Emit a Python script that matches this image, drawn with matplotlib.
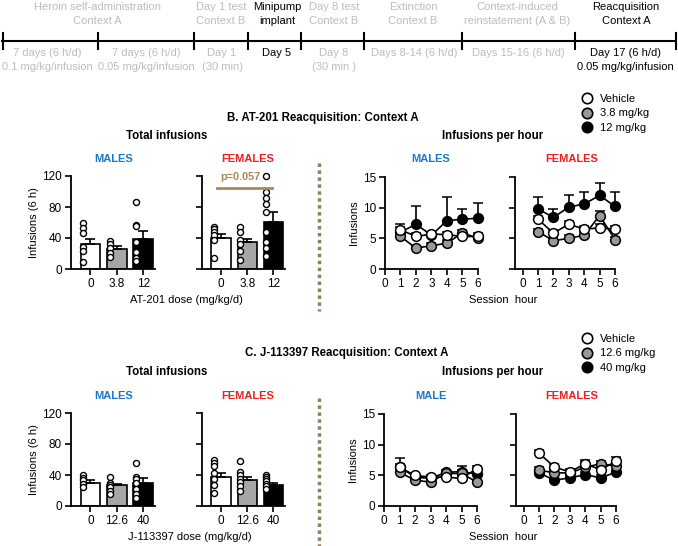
import numpy as np
import matplotlib
matplotlib.use('Agg')
import matplotlib.pyplot as plt
from matplotlib.lines import Line2D

plt.rcParams['font.family'] = ['Liberation Sans', 'DejaVu Sans']

# ---- data ----
hours = [1, 2, 3, 4, 5, 6]

b_doses = ['0', '3.8', '12']
b_male_mean = [32, 26, 39]
b_male_sem = [7, 4, 10]
b_female_mean = [40, 35, 61]
b_female_sem = [5, 4, 12]
b_male_pts = [[59, 53, 46, 28, 23, 9],
              [36, 32, 27, 21, 15],
              [87, 57, 55, 35, 22, 14, 10]]
b_female_pts = [[54, 51, 48, 44, 38, 14],
                [54, 48, 38, 32, 23, 12],
                [120, 100, 92, 84, 74, 48, 35, 27, 17]]

c_doses = ['0', '12.6', '40']
c_male_mean = [30, 26.5, 30]
c_male_sem = [3, 2.5, 6]
c_female_mean = [38, 33, 27]
c_female_sem = [5, 5, 3]
c_male_pts = [[40, 36, 33, 29, 25],
              [38, 30, 27, 25, 20, 16],
              [55, 38, 35, 30, 22, 16, 10]]
c_female_pts = [[59, 55, 51, 42, 35, 27, 17],
                [58, 44, 40, 35, 31, 26, 19],
                [40, 38, 35, 32, 29, 26, 22]]

# infusions per hour: vehicle, low dose, high dose
b_m_veh = [6.4, 5.3, 5.7, 5.6, 5.3, 5.3]
b_m_low = [5.3, 3.4, 3.8, 4.2, 5.9, 5.0]
b_m_high = [6.0, 7.3, 5.5, 7.9, 8.1, 8.3]
b_m_veh_sem = [0.5, 0.5, 0.4, 0.5, 0.4, 0.5]
b_m_low_sem = [0.5, 0.4, 0.4, 0.5, 0.5, 0.5]
b_m_high_sem = [1.4, 2.9, 0.3, 3.8, 1.7, 2.5]

b_f_veh = [8.1, 5.85, 7.3, 6.5, 6.7, 6.5]
b_f_low = [6.1, 4.6, 5.0, 5.5, 8.7, 4.8]
b_f_high = [9.8, 8.4, 10.1, 10.6, 12.0, 10.2]
b_f_veh_sem = [0.6, 0.5, 0.6, 0.5, 0.6, 0.5]
b_f_low_sem = [0.5, 0.4, 0.5, 0.5, 0.8, 0.4]
b_f_high_sem = [2.0, 1.4, 1.9, 1.9, 2.0, 2.3]

c_m_veh = [6.3, 5.0, 4.7, 4.7, 4.5, 6.1]
c_m_low = [5.5, 4.2, 3.9, 5.3, 5.3, 3.9]
c_m_high = [6.4, 4.7, 4.5, 5.5, 5.6, 5.2]
c_m_veh_sem = [0.6, 0.4, 0.3, 0.3, 0.4, 0.5]
c_m_low_sem = [0.5, 0.4, 0.3, 0.4, 0.5, 0.4]
c_m_high_sem = [1.4, 0.4, 0.4, 0.4, 0.85, 0.5]

c_f_veh = [8.6, 6.35, 5.55, 6.9, 5.9, 7.3]
c_f_low = [5.85, 5.4, 5.4, 6.3, 6.9, 6.5]
c_f_high = [5.4, 4.2, 4.6, 5.1, 4.6, 5.5]
c_f_veh_sem = [0.6, 0.5, 0.5, 0.6, 0.5, 0.7]
c_f_low_sem = [0.5, 0.4, 0.4, 0.9, 0.5, 0.6]
c_f_high_sem = [0.4, 0.3, 0.3, 0.4, 0.4, 0.4]

b_legend = ['Vehicle', '3.8 mg/kg', '12 mg/kg']
c_legend = ['Vehicle', '12.6 mg/kg', '40 mg/kg']

# timeline
tl_ticks = [3, 98, 194, 248, 301, 364, 462, 575, 676]
tl_top = [('Heroin self-administration', 'Context A', 97, 0),
          ('Day 1 test', 'Context B', 221, 0),
          ('Minipump', 'implant', 277, 1),
          ('Day 8 test', 'Context B', 334, 0),
          ('Extinction', 'Context B', 413, 0),
          ('Context-induced', 'reinstatement (A & B)', 517, 0),
          ('Reacquisition', 'Context A', 626, 1)]
tl_bottom = [('7 days (6 h/d)', '0.1 mg/kg/infusion', 47, 0),
             ('7 days (6 h/d)', '0.05 mg/kg/infusion', 146, 0),
             ('Day 1', '(30 min)', 222, 0),
             ('Day 5', '', 277, 1),
             ('Day 8', '(30 min )', 334, 0),
             ('Days 8-14 (6 h/d)', '', 414, 0),
             ('Days 15-16 (6 h/d)', '', 518, 0),
             ('Day 17 (6 h/d)', '0.05 mg/kg/infusion', 625, 1)]

# ---- style ----
GRAY_TXT = '#bdbdbd'
BLUE = '#1a78cc'
RED = '#f21d1d'
PCOL = '#a8895a'
DIV = '#8f8060'
bar_colors = ['white', '#a6a6a6', 'black']
FS = 8

W, H = 678, 546
fig = plt.figure(figsize=(W / 100, H / 100), dpi=100)


def box(l, t, r, b):
    return [l / W, 1 - b / H, (r - l) / W, (b - t) / H]


ov = fig.add_axes([0, 0, 1, 1])
ov.set_xlim(0, W)
ov.set_ylim(H, 0)
ov.axis('off')

# timeline
ov.plot([2, 676], [41, 41], color='black', lw=1.5)
for x in tl_ticks:
    ov.plot([x, x], [33, 49], color='black', lw=1.5)
for l1, l2, x, k in tl_top:
    c = 'black' if k else GRAY_TXT
    ov.text(x, 7, l1, ha='center', va='center', fontsize=FS, color=c)
    ov.text(x, 21, l2, ha='center', va='center', fontsize=FS, color=c)
for l1, l2, x, k in tl_bottom:
    c = 'black' if k else GRAY_TXT
    ov.text(x, 53, l1, ha='center', va='center', fontsize=FS, color=c)
    if l2:
        ov.text(x, 67, l2, ha='center', va='center', fontsize=FS, color=c)


def style(ax):
    for s in ['top', 'right']:
        ax.spines[s].set_visible(False)
    for s in ['left', 'bottom']:
        ax.spines[s].set_linewidth(1.3)
    ax.tick_params(width=1.2, length=4.5, labelsize=8.5, pad=2)


def bar_panel(rect, means, sems, pts, doses, show_y):
    ax = fig.add_axes(rect)
    x = np.arange(3)
    ax.bar(x, means, width=0.75, color=bar_colors, edgecolor='black', lw=1.2, zorder=2)
    ax.errorbar(x, means, yerr=[np.zeros(3), sems], fmt='none', ecolor='black',
                elinewidth=1.2, capsize=3.5, capthick=1.2, zorder=3)
    for i, p in enumerate(pts):
        ax.scatter(np.full(len(p), i - 0.27), p, s=19, facecolor='white',
                   edgecolor='black', lw=1.0, zorder=4, clip_on=False)
    ax.set_xlim(-0.74, 2.45)
    ax.set_ylim(0, 120)
    ax.set_yticks([0, 40, 80, 120])
    ax.set_xticks(x)
    ax.set_xticklabels(doses)
    style(ax)
    if show_y:
        ax.set_ylabel('Infusions (6 h)', fontsize=FS, labelpad=2)
    else:
        ax.set_yticklabels([])
    return ax


def line_panel(rect, series, sems, show_y, x0):
    ax = fig.add_axes(rect)
    fcs = ['black', '#999999', 'white']
    for vals, sem, fc, z in zip(series, sems, fcs, [3, 4, 5]):
        ax.errorbar(hours, vals, yerr=[np.zeros(6), sem], fmt='-o', color='black',
                    mfc=fc, mec='black', ms=7, mew=1.1, lw=1.2, elinewidth=1.2,
                    capsize=3.5, capthick=1.2, zorder=z, clip_on=False)
    ax.set_xlim(x0, 6)
    ax.set_ylim(0, 15)
    ax.set_xticks(range(7))
    ax.set_yticks([0, 5, 10, 15])
    style(ax)
    if show_y:
        ax.set_ylabel('Infusions', fontsize=FS, labelpad=3)
    else:
        ax.set_yticklabels([])
    return ax


# ---- panel B ----
ax = bar_panel(box(71, 176, 155, 269), b_male_mean, b_male_sem, b_male_pts, b_doses, True)
ax = bar_panel(box(202, 176, 285, 269), b_female_mean, b_female_sem, b_female_pts, b_doses, False)
ax.plot([-0.15, 1.95], [104.5, 104.5], color=PCOL, lw=2, zorder=5, clip_on=False)
ax.text(0.74, 119, 'p=0.057', color=PCOL, fontsize=7.8, fontweight='bold',
        ha='center', va='center')

line_panel(box(385, 177, 478, 269), [b_m_high, b_m_low, b_m_veh],
           [b_m_high_sem, b_m_low_sem, b_m_veh_sem], True, 0)
line_panel(box(515, 177, 615, 269), [b_f_high, b_f_low, b_f_veh],
           [b_f_high_sem, b_f_low_sem, b_f_veh_sem], False, -0.5)

# ---- panel C ----
bar_panel(box(71, 413, 155, 506), c_male_mean, c_male_sem, c_male_pts, c_doses, True)
bar_panel(box(202, 413, 285, 506), c_female_mean, c_female_sem, c_female_pts, c_doses, False)
line_panel(box(384, 414, 477, 506), [c_m_high, c_m_low, c_m_veh],
           [c_m_high_sem, c_m_low_sem, c_m_veh_sem], True, 0)
line_panel(box(516, 414, 616, 506), [c_f_high, c_f_low, c_f_veh],
           [c_f_high_sem, c_f_low_sem, c_f_veh_sem], False, -0.5)

# ---- texts ----
for yt, title, tx in [(118, 'B. AT-201 Reacquisition: Context A', 227),
                      (353, 'C. J-113397 Reacquisition: Context A', 245)]:
    ov.text(tx, yt, title, fontsize=8.3, fontweight='bold', ha='left', va='center')
for yt, ys, mlab in [(136, 159, 'MALES'), (372, 396, 'MALE')]:
    ov.text(167, yt, 'Total infusions', fontsize=8.3, fontweight='bold', ha='center', va='center')
    ov.text(493, yt, 'Infusions per hour', fontsize=8.3, fontweight='bold', ha='center', va='center')
    ov.text(114, ys, 'MALES', fontsize=FS, fontweight='bold', color=BLUE, ha='center', va='center')
    ov.text(248, ys, 'FEMALES', fontsize=FS, fontweight='bold', color=RED, ha='center', va='center')
    ov.text(431, ys, mlab, fontsize=FS, fontweight='bold', color=BLUE, ha='center', va='center')
    ov.text(572, ys, 'FEMALES', fontsize=FS, fontweight='bold', color=RED, ha='center', va='center')

ov.text(186, 300, 'AT-201 dose (mg/kg/d)', fontsize=FS, ha='center', va='center')
ov.text(503, 300, 'Session  hour', fontsize=FS, ha='center', va='center')
ov.text(190, 537, 'J-113397 dose (mg/kg/d)', fontsize=FS, ha='center', va='center')
ov.text(503, 537, 'Session  hour', fontsize=FS, ha='center', va='center')

# dotted dividers
ov.plot([319, 319], [163, 311], color=DIV, lw=2.5, ls=(0, (1, 1)))
ov.plot([319, 319], [398, 546], color=DIV, lw=2.5, ls=(0, (1, 1)))

# legends
for labels, top in [(b_legend, 94), (c_legend, 334)]:
    handles = [Line2D([], [], marker='o', ls='none', mfc=fc, mec='black', ms=7.5, mew=1.2)
               for fc in ['white', '#999999', 'black']]
    fig.legend(handles, labels, loc='upper left', bbox_to_anchor=(581 / W, 1 - top / H),
               frameon=False, fontsize=FS, handlelength=1.0, handletextpad=0.7,
               labelspacing=0.4, borderpad=0, borderaxespad=0)

fig.savefig('out.png', dpi=100)
